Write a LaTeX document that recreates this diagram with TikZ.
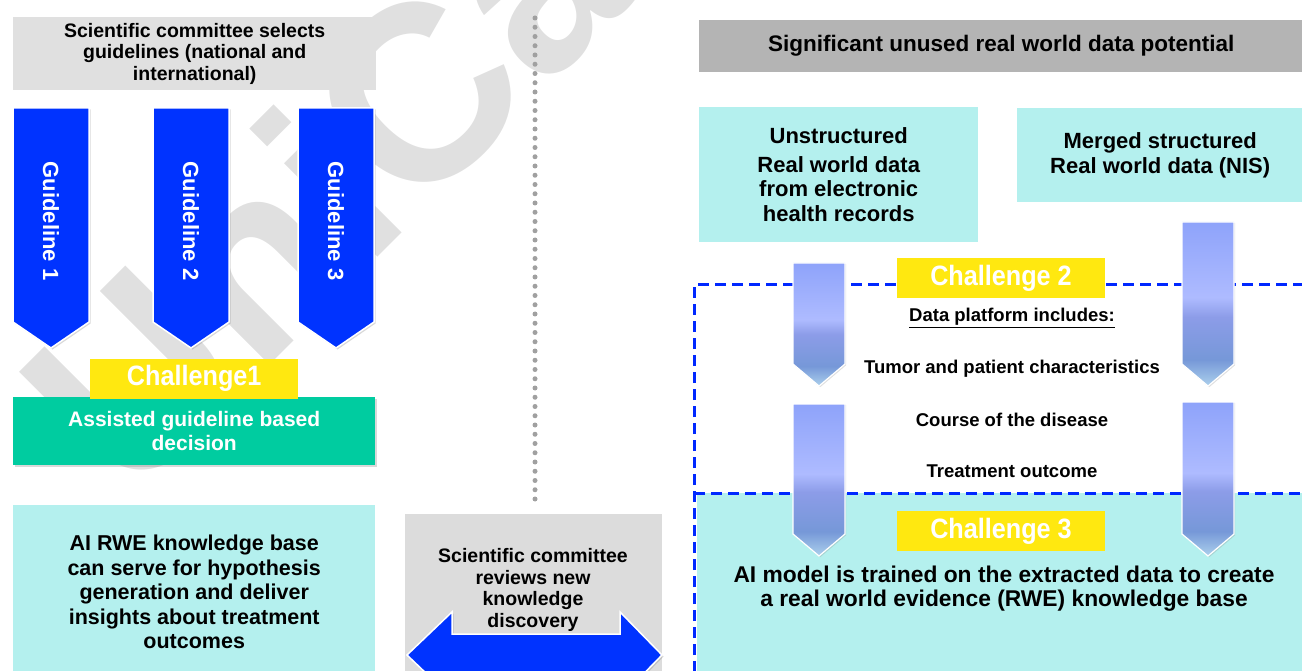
\documentclass[tikz,border=0pt]{standalone}
\usepackage{fontspec}
\setmainfont{Liberation Sans}
\newfontfamily\narrowfont[FakeStretch=0.9]{Liberation Sans}
\usepackage{tikz}
\usetikzlibrary{positioning,shadows}
\tikzstyle{every node}=[inner sep=0pt, align=center, font=\bfseries]

\definecolor{paneGray}{RGB}{224,224,224}
\definecolor{titleGray}{RGB}{180,180,180}
\definecolor{reviewGray}{RGB}{220,220,220}
\definecolor{guideBlue}{RGB}{0,51,255}
\definecolor{challYellow}{RGB}{255,232,16}
\definecolor{decGreen}{RGB}{0,204,160}
\definecolor{rweCyan}{RGB}{180,240,238}
\definecolor{dashBlue}{RGB}{0,40,255}
\definecolor{stampGray}{RGB}{224,224,224}
\definecolor{dotGray}{RGB}{160,160,160}
\definecolor{pipeTop}{RGB}{142,163,250}
\definecolor{pipeMid}{RGB}{174,187,255}
\definecolor{pipeBand}{RGB}{140,156,232}
\definecolor{pipeLow}{RGB}{118,152,216}
\definecolor{pipeTip}{RGB}{172,208,236}
\pgfdeclareverticalshading{pipeshade}{100bp}{color(0bp)=(pipeTip); color(25bp)=(pipeTip); color(33bp)=(pipeLow); color(46bp)=(pipeBand); color(52bp)=(pipeMid); color(75bp)=(pipeTop); color(100bp)=(pipeTop)}

\begin{document}
\begin{tikzpicture}[x=1pt, y=-1pt,
        panel/.style={
                anchor=north west,
                text=black,
                font=\bfseries\fontsize{19.5}{21.5}\selectfont
            },
        challenge/.style={
                fill=challYellow,
                text=white,
                minimum width=208pt,
                minimum height=40pt,
                font=\narrowfont\bfseries\fontsize{28}{30}\selectfont
            },
        guide/.style={
                fill=guideBlue,
                draw=white,
                line width=1.5pt,
                drop shadow={shadow xshift=1.5pt, shadow yshift=-1.5pt, opacity=.3}
            },
        guidetext/.style={
                rotate=-90,
                text=white,
                font=\bfseries\fontsize{22}{24}\selectfont
            },
        pipe/.style={
                shading=pipeshade,
                draw=white,
                line width=1.2pt,
                drop shadow={shadow xshift=1.2pt, shadow yshift=-1.2pt, opacity=.25}
            },
        item/.style={font=\bfseries\fontsize{18.5}{21}\selectfont},
        dashframe/.style={draw=dashBlue, line width=3pt, dash pattern=on 11pt off 6pt},
        dotline/.style={draw=dotGray, line width=5pt, line cap=round, dash pattern=on 0pt off 9.25pt},
        stamp/.style={
                rotate=45,
                anchor=base west,
                text=stampGray,
                font=\bfseries\fontsize{250}{250}\selectfont
            }
    ]
    \useasboundingbox (0,0) rectangle (1302,671);
    % Watermark
    \node[stamp] (stamp) at (130,505) {UniCancer};

    % Guidelines
    \node[panel, fill=paneGray, minimum width=363pt, minimum height=73pt] (select) at (13,17) {Scientific committee selects\\guidelines (national and\\international)};
    \foreach \cx [count=\i] in {51,191,336} {
            \path[guide] (\cx-38,108) -- (\cx+38,108) -- (\cx+38,322) -- (\cx,348) -- (\cx-38,322) -- cycle;
            \node[guidetext] (guide\i) at (\cx,221) {Guideline \i};
        }
    \node[panel, fill=decGreen, text=white, minimum width=362pt, minimum height=68pt,
        drop shadow={shadow xshift=1.5pt, shadow yshift=-1.5pt, opacity=.3},
        font=\bfseries\fontsize{21}{24}\selectfont] (assist) at (13,397) {Assisted guideline based\\decision};
    \node[challenge, above=-2pt of assist] (chal1) {Challenge1};
    \node[panel, fill=rweCyan, minimum width=362pt, minimum height=174pt,
        font=\bfseries\fontsize{21.5}{24.5}\selectfont] (kb) at (13,505) {AI RWE knowledge base\\can serve for hypothesis\\generation and deliver\\insights about treatment\\outcomes};

    % Review loop
    \node[panel, fill=reviewGray, minimum width=257pt, minimum height=170pt] (review) at (405,514) {};
    \node[font=\bfseries\fontsize{19.5}{21.5}\selectfont] (reviewtext) at (533,590) {Scientific committee\\reviews new\\knowledge\\discovery};
    \coordinate (dtop) at (535,18);
    \coordinate (dbot) at (535,502);
    \draw[dotline] (dtop) -- (dbot);
    \path[guide] (407,655) -- (452,612) -- (452,634) -- (620,634) -- (620,612) -- (662,655)
    -- (620,698) -- (620,676) -- (452,676) -- (452,698) -- cycle;

    % Real world data
    \node[panel, fill=titleGray, minimum width=604pt, minimum height=52pt,
        font=\bfseries\fontsize{22.5}{24}\selectfont] (potential) at (699,20) {Significant unused real world data potential};
    \node[panel, fill=rweCyan, minimum width=279pt, minimum height=135pt,
        font=\bfseries\fontsize{22}{24.5}\selectfont] (unstruct) at (699,107) {Unstructured\\[4pt]Real world data\\from electronic\\health records};
    \node[panel, fill=rweCyan, minimum width=286pt, minimum height=94pt,
        font=\bfseries\fontsize{22}{24.5}\selectfont] (merged) at (1017,108) {Merged structured\\Real world data (NIS)};
    \fill[rweCyan] (697,493) rectangle (1303,672);
    \draw[dashframe] (694,672) -- (694,285) -- (1303,285);
    \draw[dashframe] (694,493) -- (1303,493);
    \foreach \cx/\ya/\yb in {819/263/386, 819/404/556, 1208/222/386, 1208/402/556} {
            \shade[pipe] (\cx-26,\ya) -- (\cx+26,\ya) -- (\cx+26,\yb-22) -- (\cx,\yb) -- (\cx-26,\yb-22) -- cycle;
        }
    \node[challenge] (chal2) at (1001,278) {Challenge 2};
    \node[item] (platform) at (1012,318) {\underline{Data platform includes:}};
    \node[item] (tumor) at (1012,369) {Tumor and patient characteristics};
    \node[item] (course) at (1012,420) {Course of the disease};
    \node[item] (outcome) at (1012,471) {Treatment outcome};
    \node[challenge] (chal3) at (1001,531) {Challenge 3};
    \node[font=\bfseries\fontsize{22.8}{24}\selectfont] (model) at (1004,589) {AI model is trained on the extracted data to create\\a real world evidence (RWE) knowledge base};
\end{tikzpicture}
\end{document}
